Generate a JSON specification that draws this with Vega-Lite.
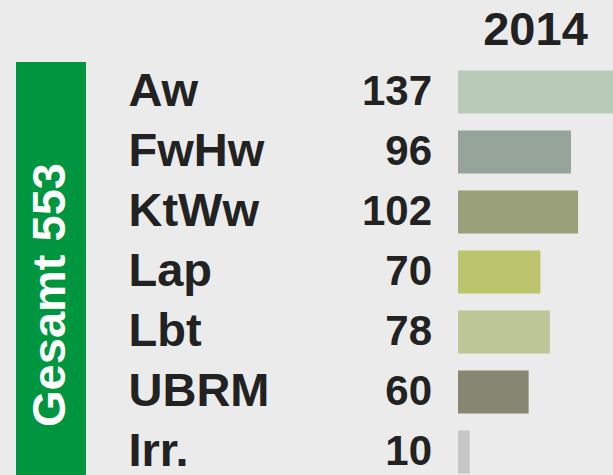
{
  "$schema": "https://vega.github.io/schema/vega-lite/v6.json",
  "background": "#ebebeb",
  "padding": {"left": 16, "top": 7, "right": 0, "bottom": 0},
  "bounds": "flush",
  "spacing": 372,
  "config": {"view": {"stroke": null}, "font": "Liberation Sans"},
  "datasets": {
    "main": [
      {"cat": "Aw", "value": 137},
      {"cat": "FwHw", "value": 96},
      {"cat": "KtWw", "value": 102},
      {"cat": "Lap", "value": 70},
      {"cat": "Lbt", "value": 78},
      {"cat": "UBRM", "value": 60},
      {"cat": "Irr.", "value": 10}
    ],
    "total": [{"label": "Gesamt 553"}]
  },
  "hconcat": [
    {
      "width": 70,
      "height": 420,
      "data": {"name": "total"},
      "encoding": {
        "x": {"field": "label", "type": "nominal", "axis": null, "scale": {"paddingInner": 0, "paddingOuter": 0}},
        "y": {"field": "label", "type": "nominal", "axis": null, "scale": {"paddingInner": 0, "paddingOuter": 0}}
      },
      "layer": [
        {"mark": {"type": "rect", "color": "#009640"}},
        {
          "mark": {"type": "text", "angle": 270, "color": "white", "fontSize": 47, "fontWeight": "bold", "align": "center", "baseline": "middle", "dx": -23},
          "encoding": {"text": {"field": "label"}}
        }
      ]
    },
    {
      "width": 155,
      "height": {"step": 60},
      "title": {"text": "2014", "fontSize": 47, "fontWeight": "bold", "color": "#222222", "anchor": "middle", "baseline": "alphabetic", "offset": -30, "font": "Liberation Sans"},
      "data": {"name": "main"},
      "encoding": {
        "y": {
          "field": "cat", "type": "nominal", "sort": null,
          "scale": {"paddingInner": 0.283, "paddingOuter": 0.1417},
          "axis": {"title": null, "domain": false, "ticks": false, "labelAlign": "left", "labelPadding": 330, "labelFontSize": 47, "labelFontWeight": "bold", "labelColor": "#222222", "labelFont": "Liberation Sans"}
        },
        "x": {"field": "value", "type": "quantitative", "scale": {"domain": [0, 131.7]}, "axis": null}
      },
      "layer": [
        {
          "mark": {"type": "bar", "clip": true},
          "encoding": {
            "color": {
              "field": "cat", "type": "nominal",
              "scale": {"domain": ["Aw", "FwHw", "KtWw", "Lap", "Lbt", "UBRM", "Irr."], "range": ["#b8cbb9", "#96a49a", "#9aa07a", "#bcc46e", "#bcc696", "#878672", "#c6c7c5"]},
              "legend": null
            }
          }
        },
        {
          "mark": {"type": "text", "align": "right", "dx": -26, "fontSize": 42, "fontWeight": "bold", "color": "#222222", "baseline": "middle"},
          "encoding": {
            "x": {"datum": 0, "type": "quantitative", "axis": null},
            "text": {"field": "value", "type": "quantitative"}
          }
        }
      ]
    }
  ]
}
